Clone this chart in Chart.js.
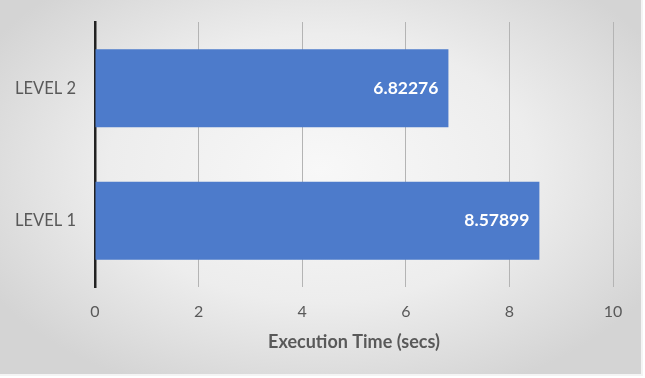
<!DOCTYPE html>
<html>
<head>
<meta charset="utf-8">
<script src="https://cdn.jsdelivr.net/npm/chart.js@4/dist/chart.umd.min.js"></script>
<style>
  html, body { margin: 0; padding: 0; }
  body { width: 645px; height: 378px; overflow: hidden; background: #fff; }
  #wrap { position: absolute; left: 0; top: 0; width: 641px; height: 374px;
    background: radial-gradient(ellipse 60% 65% at 50% 45%, #f8f8f8 0%, #ededed 55%, #d4d4d4 100%);
    border-right: 2px solid #f4f4f4; border-bottom: 2px solid #f4f4f4; }
  canvas { position: absolute; left: 0; top: 0; }
</style>
</head>
<body>
<div id="wrap"><canvas id="c" width="645" height="378"></canvas></div>
<script>
const categories = ["LEVEL 2", "LEVEL 1"];
const executionTimes = [6.82276, 8.57899];
const labelTexts = ["6.82276", "8.57899"];
const xTicks = [0, 2, 4, 6, 8, 10];

const FONT = 'Lato, "Open Sans", sans-serif';

const valueLabels = {
  id: 'valueLabels',
  afterDatasetsDraw(chart) {
    const ctx = chart.ctx;
    const meta = chart.getDatasetMeta(0);
    ctx.save();
    ctx.fillStyle = '#ffffff';
    ctx.font = 'bold 17.5px ' + FONT;
    ctx.textAlign = 'right';
    ctx.textBaseline = 'middle';
    meta.data.forEach((bar, i) => {
      ctx.fillText(labelTexts[i], bar.x - 10, bar.y);
    });
    ctx.restore();
  }
};

new Chart(document.getElementById('c'), {
  type: 'bar',
  data: {
    labels: categories,
    datasets: [{
      data: executionTimes,
      backgroundColor: '#4d7bcb',
      borderWidth: 0,
      categoryPercentage: 0.59,
      barPercentage: 1.0
    }]
  },
  options: {
    indexAxis: 'y',
    responsive: false,
    animation: false,
    plugins: { legend: { display: false }, tooltip: { enabled: false } },
    layout: { padding: { top: 22, right: 32, left: 0, bottom: 21 } },
    scales: {
      x: {
        min: 0, max: 10,
        afterBuildTicks(axis) { axis.ticks = xTicks.map(v => ({ value: v })); },
        grid: { color: '#b4b4b4', lineWidth: 1, drawTicks: false },
        border: { display: false },
        ticks: { color: '#595959', font: { family: FONT, size: 16 }, padding: 15 },
        title: { display: true, text: 'Execution Time (secs)', color: '#595959',
          font: { family: FONT, size: 18, weight: 'bold' } },
        afterFit(axis) { axis.height = 70; axis.paddingLeft = 0; axis.paddingRight = 0; }
      },
      y: {
        grid: { display: false, drawTicks: false },
        border: { display: true, color: '#222222', width: 2.5 },
        ticks: { color: '#595959', font: { family: FONT, size: 16.5 }, padding: 19 },
        afterFit(axis) { axis.width = 95; axis.paddingTop = 0; axis.paddingBottom = 0; }
      }
    }
  },
  plugins: [valueLabels]
});
</script>
</body>
</html>
